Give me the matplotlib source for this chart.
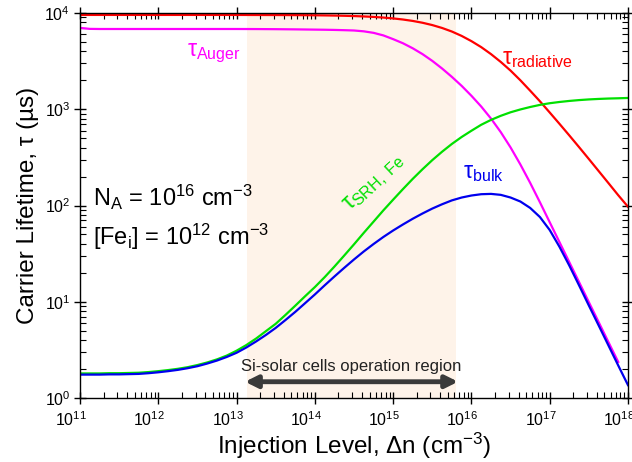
import numpy as np
from matplotlib import pyplot as plt
from matplotlib import transforms

plt.rcParams['font.family'] = ['Liberation Sans', 'DejaVu Sans']
plt.rcParams['mathtext.fontset'] = 'custom'
plt.rcParams['mathtext.rm'] = 'Liberation Sans'
plt.rcParams['mathtext.it'] = 'Liberation Sans:italic'
plt.rcParams['mathtext.bf'] = 'Liberation Sans:bold'

# injection level, log10(cm^-3), read every 1/8 decade
dn_exp = [11.0, 11.125, 11.25, 11.375, 11.5, 11.625, 11.75, 11.875,
          12.0, 12.125, 12.25, 12.375, 12.5, 12.625, 12.75, 12.875,
          13.0, 13.125, 13.25, 13.375, 13.5, 13.625, 13.75, 13.875,
          14.0, 14.125, 14.25, 14.375, 14.5, 14.625, 14.75, 14.875,
          15.0, 15.125, 15.25, 15.375, 15.5, 15.625, 15.75, 15.875,
          16.0, 16.125, 16.25, 16.375, 16.5, 16.625, 16.75, 16.875,
          17.0, 17.125, 17.25, 17.375, 17.5, 17.625, 17.75, 17.875,
          18.0]

tau_rad = [9550, 9550, 9550, 9550, 9550, 9550, 9550, 9550,
           9550, 9550, 9550, 9550, 9548, 9548, 9547, 9546,
           9545, 9540, 9535, 9530, 9525, 9515, 9505, 9490,
           9468, 9440, 9405, 9357, 9294, 9212, 9105, 8966,
           8786, 8558, 8272, 7919, 7492, 6990, 6420, 5780,
           5100, 4420, 3740, 3100, 2520, 2000, 1560, 1210,
           925, 705, 535, 404, 304, 228, 171, 128,
           97]

tau_srh = [1.80, 1.80, 1.80, 1.81, 1.81, 1.82, 1.83, 1.86,
           1.90, 1.95, 2.01, 2.09, 2.20, 2.34, 2.52, 2.76,
           3.10, 3.55, 4.15, 4.95, 5.9, 7.3, 9.1, 11.4,
           14.2, 18.0, 23.2, 30.2, 39.5, 52, 68, 89,
           115, 148, 189, 238, 296, 362, 436, 515,
           598, 690, 775, 855, 930, 995, 1055, 1110,
           1155, 1190, 1220, 1245, 1265, 1280, 1292, 1300,
           1310]

tau_bulk = [1.75, 1.75, 1.75, 1.76, 1.76, 1.77, 1.78, 1.81,
            1.85, 1.90, 1.96, 2.04, 2.14, 2.28, 2.45, 2.67,
            2.95, 3.35, 3.87, 4.52, 5.35, 6.46, 7.85, 9.66,
            11.9, 14.8, 18.3, 22.5, 27.5, 33.3, 39.8, 47.1,
            55, 63.5, 72.8, 82.6, 92.9, 103, 113, 121,
            127, 131, 132, 129, 121, 110, 94.4, 75.9,
            55.6, 37.2, 23.8, 14.8, 9.14, 5.68, 3.52, 2.18,
            1.36]

# Auger curve stops just short of 1e18
tau_aug = [7000, 6840, 6820, 6820, 6820, 6820, 6820, 6820,
           6820, 6820, 6820, 6820, 6820, 6820, 6820, 6820,
           6820, 6815, 6810, 6800, 6790, 6775, 6760, 6740,
           6720, 6700, 6670, 6630, 6580, 6450, 6220, 5850,
           5350, 4850, 4300, 3740, 3180, 2650, 2170, 1750,
           1380, 1067, 800, 578, 401, 267, 172, 108,
           67, 41.6, 25.8, 16.0, 9.9, 6.15, 3.81, 2.37]

region = [13.13, 15.80]   # Si solar cells operation region (exponents)

dn = 10 ** np.array(dn_exp)
dn_aug = dn[:len(tau_aug)]

fig = plt.figure(figsize=(6.32, 4.62), dpi=100)
ax = fig.add_axes([80/632, 1-398/462, 548/632, 385/462])

ax.axvspan(10**region[0], 10**region[1], color='#fef3e9', lw=0, zorder=0)

ax.plot(dn, tau_rad, color='#ff0000', lw=1.6)
ax.plot(dn_aug, tau_aug, color='#ff00ff', lw=1.6)
ax.plot(dn, tau_srh, color='#00e000', lw=1.6)
ax.plot(dn, tau_bulk, color='#0000ee', lw=1.6)

ax.set_xscale('log')
ax.set_yscale('log')
ax.set_xlim(1e11, 1e18)
ax.set_ylim(1, 1e4)
ax.set_xticks([10**i for i in range(11, 19)])
ax.set_yticks([10**i for i in range(0, 5)])

ax.tick_params(which='major', direction='inout', length=8, width=1,
               top=True, right=True, labelsize=11.5, pad=3)
ax.tick_params(axis='x', which='major', pad=5)
ax.tick_params(which='minor', direction='in', length=4, width=0.8,
               top=True, right=True)
for s in ax.spines.values():
    s.set_linewidth(1.0)

# x tick labels sit a little left of their ticks in the original
shift = transforms.ScaledTranslation(-0.09, 0, fig.dpi_scale_trans)
for lab in ax.get_xticklabels():
    lab.set_transform(lab.get_transform() + shift)

ax.set_xlabel('Injection Level, \u0394n (cm$^{-3}$)', fontsize=17.5, labelpad=1)
ax.set_ylabel('Carrier Lifetime, \u03c4 (\u00b5s)', fontsize=17.5, labelpad=4)

# curve labels
ax.text(10**12.37, 10**3.553, r'$\mathrm{\tau}_{\mathrm{Auger}}$', color='#ff00ff',
        fontsize=16.5, ha='left', va='baseline')
ax.text(10**16.39, 10**3.47, r'$\mathrm{\tau}_{\mathrm{radiative}}$', color='#ff0000',
        fontsize=16.5, ha='left', va='baseline')
ax.text(10**15.89, 10**2.28, r'$\mathrm{\tau}_{\mathrm{bulk}}$', color='#0000ee',
        fontsize=16.5, ha='left', va='baseline')
ax.text(10**14.76, 10**2.23, r'$\mathrm{\tau}_{\mathrm{SRH,\ Fe}}$', color='#00e000',
        fontsize=16.5, ha='center', va='center', rotation=43)

ax.text(10**11.17, 10**2.0, r'N$_{\mathrm{A}}$ = 10$^{16}$ cm$^{-3}$',
        fontsize=17, ha='left', va='baseline')
ax.text(10**11.17, 10**1.59, r'[Fe$_{\mathrm{i}}$] = 10$^{12}$ cm$^{-3}$',
        fontsize=17, ha='left', va='baseline')

ax.annotate('', xy=(10**region[0] * 0.95, 10**0.169),
            xytext=(10**region[1] * 1.07, 10**0.169),
            arrowprops=dict(arrowstyle='<|-|>', color='#3a3a3a', lw=3.5,
                            mutation_scale=18, shrinkA=0, shrinkB=0))
ax.text(10**14.47, 10**0.285, 'Si-solar cells operation region', fontsize=12,
        color='#222222', ha='center', va='baseline')

plt.savefig('out.png', dpi=100)
plt.close()
